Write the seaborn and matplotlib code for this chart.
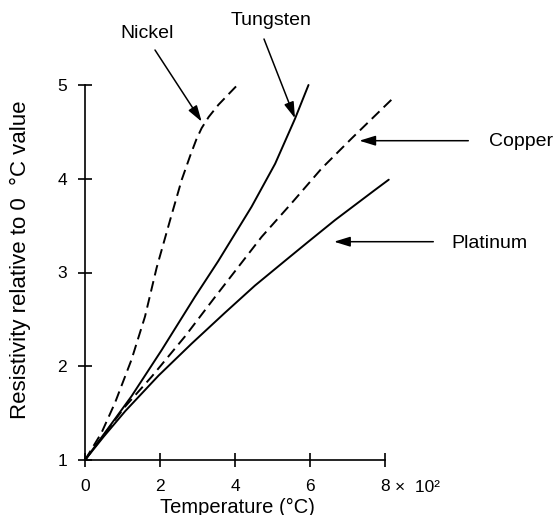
import matplotlib
matplotlib.use('Agg')
import matplotlib.pyplot as plt
import seaborn as sns
import pandas as pd

# ---- data (temperature in units of 100 degC, resistivity ratio R/R0) ----
nickel_x = [0, 0.44, 0.8, 1.24, 1.6, 1.91, 2.27, 2.58, 2.8, 2.97, 3.11, 3.3, 3.56, 4.04]
nickel_y = [1, 1.29, 1.61, 2.07, 2.53, 3.05, 3.56, 3.99, 4.24, 4.42, 4.54, 4.66, 4.79, 4.99]

tungsten_x = [0, 0.53, 1.24, 2.04, 2.93, 3.55, 4.44, 5.07, 5.6, 5.96]
tungsten_y = [1, 1.29, 1.68, 2.17, 2.74, 3.12, 3.70, 4.16, 4.64, 5.0]

copper_x = [0, 1.07, 1.78, 2.67, 3.47, 4.09, 4.71, 5.51, 6.31, 7.11, 8.19]
copper_y = [1, 1.57, 1.89, 2.32, 2.74, 3.06, 3.38, 3.74, 4.11, 4.43, 4.85]

platinum_x = [0, 0.5, 1.07, 1.96, 2.84, 3.73, 4.53, 5.38, 5.96, 6.67, 7.73, 8.1]
platinum_y = [1, 1.25, 1.52, 1.9, 2.24, 2.57, 2.86, 3.14, 3.33, 3.56, 3.88, 3.99]

x_ticks = [0, 2, 4, 6, 8]
x_ticklabels = ['0', '2', '4', '6', '8']
y_ticks = [1, 2, 3, 4, 5]
y_ticklabels = ['1', '2', '3', '4', '5']

series = {
    'Nickel': (nickel_x, nickel_y),
    'Tungsten': (tungsten_x, tungsten_y),
    'Copper': (copper_x, copper_y),
    'Platinum': (platinum_x, platinum_y),
}
frames = []
for name, (xs, ys) in series.items():
    frames.append(pd.DataFrame({'temp': xs, 'ratio': ys, 'metal': name}))
df = pd.concat(frames, ignore_index=True)

sns.set_style('ticks')
plt.rcParams['font.family'] = ['Liberation Sans', 'DejaVu Sans']
plt.rcParams['text.color'] = 'black'
plt.rcParams['xtick.color'] = 'black'
plt.rcParams['ytick.color'] = 'black'

W, H = 556, 515
fig = plt.figure(figsize=(W / 100, H / 100), dpi=100)
ax = fig.add_axes([85 / W, 1 - 460 / H, 300 / W, 375 / H])

sns.lineplot(data=df, x='temp', y='ratio', hue='metal', style='metal',
             palette={k: 'black' for k in series},
             dashes={'Nickel': (5.5, 3), 'Tungsten': '', 'Copper': (5.5, 3), 'Platinum': ''},
             estimator=None, sort=False, legend=False, linewidth=1.4, ax=ax)
for ln in ax.lines:
    ln.set_clip_on(False)

ax.set_xlim(0, 8)
ax.set_ylim(1, 5)
ax.set_xticks(x_ticks)
ax.set_xticklabels(x_ticklabels)
ax.set_yticks(y_ticks)
ax.set_yticklabels(y_ticklabels)
ax.set_xlabel('')
ax.set_ylabel('')
sns.despine(ax=ax)
for s in ['left', 'bottom']:
    ax.spines[s].set_linewidth(1.2)
    ax.spines[s].set_color('black')
ax.tick_params(axis='both', direction='inout', length=10, width=1.2, colors='black',
               labelsize=12.5, bottom=True, left=True)
ax.tick_params(axis='x', pad=9)
ax.tick_params(axis='y', pad=8)
ax.patch.set_alpha(0)

# x10^2 multiplier next to the last tick label
ax.annotate('\u00d7  10\u00b2', xy=(8, 1), xytext=(7.5, -19.5), textcoords='offset points',
            ha='left', va='center', fontsize=12.5, annotation_clip=False)

fig.text(237 / W, 1 - 507 / H, 'Temperature (\u00b0C)', ha='center', va='center', fontsize=14.5)
fig.text(20 / W, 1 - 260 / H, 'Resistivity relative to 0  \u00b0C value', ha='center', va='center',
         rotation=90, fontsize=16)

arrow = dict(arrowstyle='-|>,head_length=0.65,head_width=0.2', color='black', lw=1.1,
             mutation_scale=15, shrinkA=0, shrinkB=0)

def px2data(px, py):
    return ((px - 85) / 37.5, 1 + (460 - py) / 93.75)

labels = [
    ('Nickel', (201.7, 121.7), (155, 50), (147.5, 33), 'center'),
    ('Tungsten', (295, 118.3), (264, 39), (271, 20.7), 'center'),
    ('Copper', (359.3, 140.7), (468.3, 140.7), (489.3, 141.7), 'left'),
    ('Platinum', (334, 241.7), (433.3, 241.7), (451.7, 243.3), 'left'),
]
for name, tip, tail, txt, ha in labels:
    ax.annotate('', xy=px2data(*tip), xytext=px2data(*tail), xycoords='data',
                textcoords='data', arrowprops=arrow, annotation_clip=False)
    fig.text(txt[0] / W, 1 - txt[1] / H, name, ha=ha, va='center', fontsize=14)

fig.savefig('out.png', dpi=100, facecolor='white')
